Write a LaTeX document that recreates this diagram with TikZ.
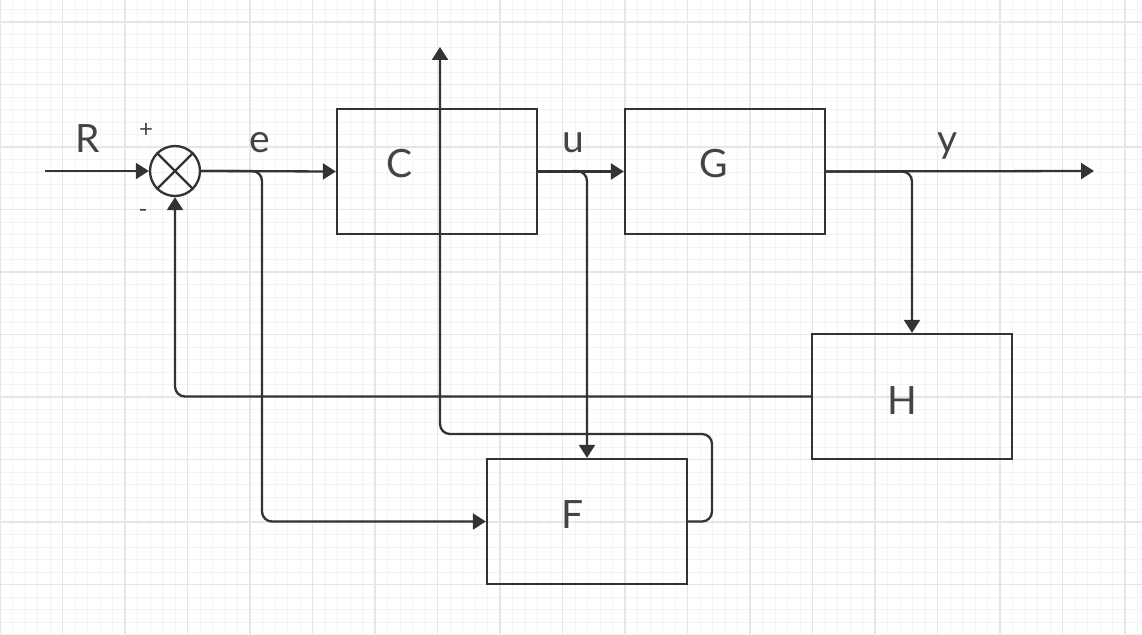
\documentclass[tikz,border=0pt]{standalone}
\usepackage{fontspec}
\setmainfont{Lato}
\usetikzlibrary{arrows.meta}
\definecolor{ink}{HTML}{333333}
\definecolor{txt}{HTML}{444444}
\definecolor{gmin}{HTML}{F3F3F3}
\definecolor{gmaj}{HTML}{E6E6E6}
\begin{document}
\begin{tikzpicture}[x=1pt,y=-1pt,
  blk/.style={draw=ink, line width=2.3pt, minimum width=200pt, minimum height=125pt, inner sep=0pt},
  sumnode/.style={draw=ink, line width=2.3pt, circle, minimum size=50pt, inner sep=0pt},
  lab/.style={font=\fontsize{39}{39}\selectfont, text=txt, inner sep=0pt, anchor=base},
  sgn/.style={font=\fontsize{24}{24}\selectfont, text=txt, inner sep=0pt},
  wire/.style={draw=ink, line width=2.3pt},
  arr/.style={wire, -{Triangle[length=13pt,width=16pt]}},
  rc/.style={rounded corners=10pt}]
\useasboundingbox (0,0) rectangle (1142,634);
\fill[white] (0,0) rectangle (1142,634);
% grid
\foreach \i in {0,...,91} {\draw[gmin, line width=0.8pt] (12.5*\i,0) -- (12.5*\i,634);}
\foreach \j in {0,...,50} {\draw[gmin, line width=0.8pt] (0,9.5+12.5*\j) -- (1142,9.5+12.5*\j);}
\foreach \i in {0,...,18} {\draw[gmaj, line width=1.2pt] (62.5*\i,0) -- (62.5*\i,634);}
\foreach \j in {0,...,9} {\draw[gmaj, line width=1.2pt] (0,22+62.5*\j) -- (1142,22+62.5*\j);}
% blocks
\node[blk] (C) at (437,171.5) {};
\node[blk] (G) at (725,171.5) {};
\node[blk] (H) at (912,396.5) {};
\node[blk] (F) at (587,521.5) {};
\node[sumnode] (S) at (175,171) {};
\draw[wire] (S.45) -- (S.225) (S.135) -- (S.315);
% labels
\node[lab] (Ct) at (400,177) {C};
\node[lab] (Gt) at (714,177) {G};
\node[lab] (Ht) at (902,414) {H};
\node[lab] (Ft) at (573,528) {F};
\node[lab] (Rt) at (88,152.5) {R};
\node[lab] (et) at (260,152) {e};
\node[lab] (ut) at (573,152) {u};
\node[lab] (yt) at (948,152) {y};
\node[sgn] (plus) at (146,131) {+};
\node[sgn] (minus) at (143,213) {-};
% coordinates
\coordinate (in) at (45,171);
\coordinate (out) at (1094,171);
\coordinate (eb) at (262,171);
\coordinate (ub) at (587,171);
\coordinate (fr) at (712,521.5);
\coordinate (fu) at (712,434);
\coordinate (fl) at (440,434);
\coordinate (top) at (440,47);
% connectors
\draw[arr] (in) -- (S.west);
\draw[arr] (S.east) -- (C.west);
\draw[arr, rc] (S.east) -- (eb) |- (F.west);
\draw[arr] (C.east) -- (G.west);
\draw[arr, rc] (C.east) -- (ub) -- (F.north);
\draw[arr] (G.east) -- (out);
\draw[arr, rc] (G.east) -| (H.north);
\draw[arr, rc] (H.west) -| (S.south);
\draw[arr, rc] (F.east) -- (fr) -- (fu) -- (fl) -- (top);
\end{tikzpicture}
\end{document}
